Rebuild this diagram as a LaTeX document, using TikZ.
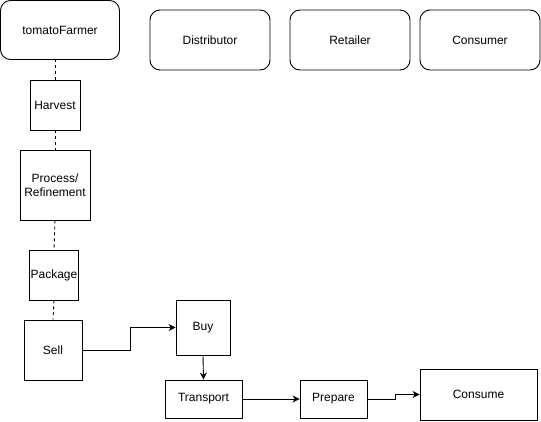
\documentclass[tikz,border=0pt]{standalone}
\usepackage{fontspec}
\setmainfont{Liberation Sans}
\usetikzlibrary{arrows.meta}

\tikzset{
  role/.style={draw, rounded corners=10pt, line width=0.9pt, align=center,
    inner sep=0pt, font=\fontsize{12}{14}\selectfont},
  stepbox/.style={draw, rectangle, line width=0.9pt, align=center,
    inner sep=0pt, font=\fontsize{12}{14}\selectfont},
  lifeline/.style={dashed, dash pattern=on 3pt off 3pt, line width=0.9pt},
  flow/.style={-{Stealth[length=7pt,width=7pt]}, line width=0.9pt}
}

\begin{document}
\begin{tikzpicture}[x=1pt, y=-1pt]
        \useasboundingbox (0,0) rectangle (541,421);

        \node[role, minimum width=119pt, minimum height=59pt] (farmer) at (60,30) {tomatoFarmer};
        \node[role, minimum width=120pt, minimum height=60pt] (dist) at (210,40) {Distributor};
        \node[role, minimum width=120pt, minimum height=60pt] (retail) at (350,40) {Retailer};
        \node[role, minimum width=120pt, minimum height=60pt] (cons) at (480,40) {Consumer};

        \node[stepbox, minimum width=50pt, minimum height=50pt] (harvest) at (55,105) {Harvest};
        \node[stepbox, minimum width=70pt, minimum height=70pt] (process) at (55,185) {Process/\\Refinement};
        \node[stepbox, minimum width=49pt, minimum height=50pt] (package) at (54,275) {Package};
        \node[stepbox, minimum width=58pt, minimum height=60pt] (sell) at (53,350) {Sell};
        \node[stepbox, minimum width=54pt, minimum height=55pt] (buy) at (203,327.5) {Buy};
        \node[stepbox, minimum width=77pt, minimum height=38pt] (transport) at (203.5,399) {Transport};
        \node[stepbox, minimum width=67pt, minimum height=38pt] (prepare) at (333.5,399) {Prepare};
        \node[stepbox, minimum width=117pt, minimum height=51pt] (consume) at (478.5,394.5) {Consume};

        \draw[lifeline] (harvest.north) -- (harvest.north |- farmer.south);
        \draw[lifeline] (harvest.south) -- (process.north);
        \draw[lifeline] (process.south) -- (package.north);
        \draw[lifeline] (package.south) -- (sell.north);

        \draw[flow] (sell.east) -- ++(48,0) |- (buy.west);
        \draw[flow] (buy.south) -- (transport.north);
        \draw[flow] (transport.east) -- (prepare.west);
        \draw[flow] (prepare.east) -- ++(28,0) |- (consume.west);

    \end{tikzpicture}
\end{document}
